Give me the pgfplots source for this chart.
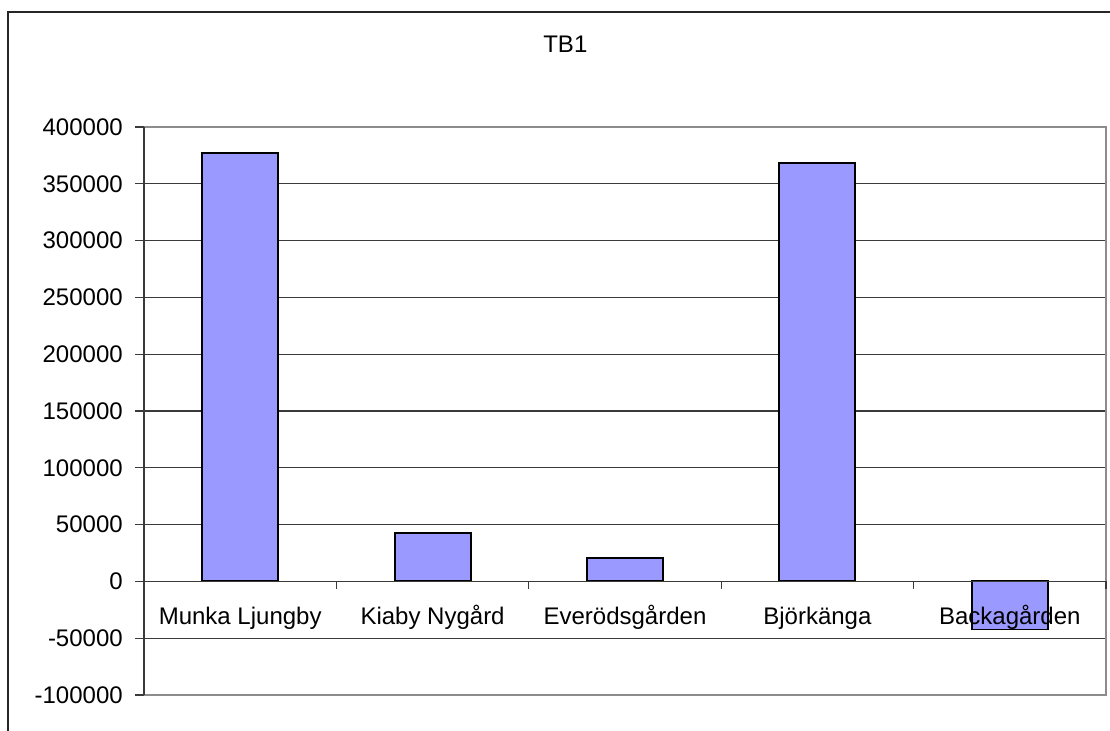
\documentclass[border=0pt]{standalone}
\usepackage{pgfplots}
\pgfplotsset{compat=1.18}
\usepackage{fontspec}
\setmainfont{Liberation Sans}
\definecolor{barfill}{HTML}{9999FF}
\definecolor{gridc}{HTML}{3A3A3A}
\definecolor{boxc}{HTML}{8C8C8C}
\tikzset{catlab/.style={anchor=base, font=\fontsize{18}{21}\selectfont, inner sep=0pt}}
\begin{document}
\begin{tikzpicture}
\useasboundingbox (0,0) rectangle (832.5pt,548.25pt);
\draw[line width=1.1pt, black!85] (6pt,-5pt) -- (6pt,539.25pt) -- (845pt,539.25pt);
\node[anchor=base, font=\fontsize{18}{21}\selectfont, inner sep=0pt] at (424pt,508.5pt) {TB1};
\begin{axis}[
  at={(108pt,27pt)}, anchor=south west,
  scale only axis, width=721.5pt, height=426pt,
  xmin=-0.5, xmax=4.5, ymin=-100000, ymax=400000,
  ytick={-100000,-50000,...,400000},
  scaled y ticks=false,
  xtick=\empty,
  axis line style={draw=none},
  ymajorgrids, grid style={gridc, line width=0.8pt},
  ytick pos=left, tick align=outside, major tick length=6.75pt,
  tick style={gridc, line width=0.8pt},
  /pgf/number format/fixed, /pgf/number format/1000 sep={},
  /pgf/number format/assume math mode=true,
  yticklabel style={font=\fontsize{18}{21}\selectfont, inner sep=0pt, xshift=-9pt},
  clip=false,
]
\addplot[ybar, bar width=57pt, fill=barfill, draw=black, line width=1.4pt]
  coordinates {(0,376800) (1,42600) (2,20800) (3,368000) (4,-42300)};
\draw[boxc, line width=1.2pt] (rel axis cs:0,1) -- (rel axis cs:1,1) -- (rel axis cs:1,0) -- (rel axis cs:0,0);
\draw[gridc, line width=1.4pt] (rel axis cs:0,0) -- (rel axis cs:0,1);
\draw[gridc, line width=0.9pt] (axis cs:-0.5,0) -- (axis cs:4.5,0);
\draw[gridc, line width=0.9pt] (axis cs:0.5,0) -- ([yshift=-6pt]axis cs:0.5,0);
\draw[gridc, line width=0.9pt] (axis cs:1.5,0) -- ([yshift=-6pt]axis cs:1.5,0);
\draw[gridc, line width=0.9pt] (axis cs:2.5,0) -- ([yshift=-6pt]axis cs:2.5,0);
\draw[gridc, line width=0.9pt] (axis cs:3.5,0) -- ([yshift=-6pt]axis cs:3.5,0);
\draw[gridc, line width=0.9pt] (axis cs:4.5,0) -- ([yshift=-6pt]axis cs:4.5,0);
\node[catlab] at ([yshift=-32.6pt]axis cs:0,0) {Munka Ljungby};
\node[catlab] at ([yshift=-32.6pt]axis cs:1,0) {Kiaby Nygård};
\node[catlab] at ([yshift=-32.6pt]axis cs:2,0) {Everödsgården};
\node[catlab] at ([yshift=-32.6pt]axis cs:3,0) {Björkänga};
\node[catlab] at ([yshift=-32.6pt]axis cs:4,0) {Backagården};
\end{axis}
\end{tikzpicture}
\end{document}
